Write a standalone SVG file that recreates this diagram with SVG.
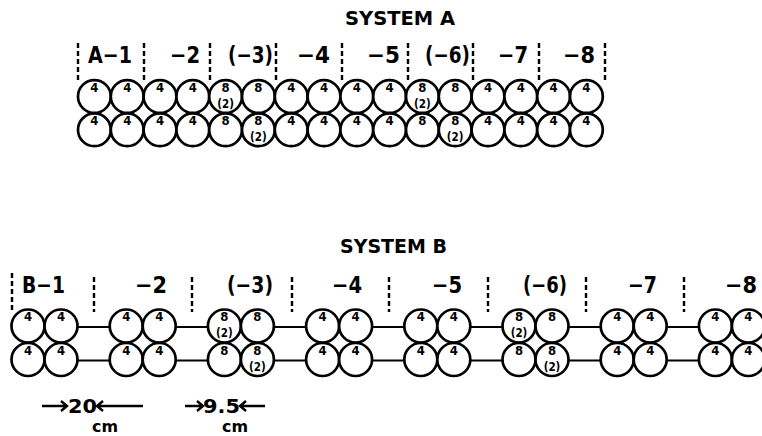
<svg xmlns="http://www.w3.org/2000/svg" width="762" height="436" viewBox="0 0 762 436">
<style>
.c{fill:#fff;stroke:#000;stroke-width:2.7}
.n{font-family:"DejaVu Sans Condensed","DejaVu Sans",sans-serif;font-weight:bold;font-size:13px;text-anchor:middle;fill:#000}
.p{font-family:"DejaVu Sans Condensed","DejaVu Sans",sans-serif;font-weight:bold;font-size:11.5px;text-anchor:middle;fill:#000}
.t{font-family:"DejaVu Sans Condensed","DejaVu Sans",sans-serif;font-weight:bold;font-size:19px;fill:#000}
.l{font-family:"DejaVu Sans Condensed","DejaVu Sans",sans-serif;font-weight:bold;font-size:23px;fill:#000}
.m{font-family:"DejaVu Sans Condensed","DejaVu Sans",sans-serif;font-weight:bold;font-size:20px;fill:#000}
.u{font-family:"DejaVu Sans Condensed","DejaVu Sans",sans-serif;font-weight:bold;font-size:15px;fill:#000}
.d{stroke:#000;stroke-width:2.4;stroke-dasharray:5 3;fill:none}
.k{stroke:#000;stroke-width:2.2;fill:none}
.a{stroke:#000;stroke-width:2.4;fill:none}
</style>

<text class="t" x="345" y="25" textLength="110" lengthAdjust="spacingAndGlyphs">SYSTEM  A</text>
<text class="t" x="340" y="253" textLength="107" lengthAdjust="spacingAndGlyphs">SYSTEM  B</text>

<g id="dividers-A">
<path class="d" d="M78 43V83M144 43V83M210 43V83M276 43V83M342 43V83M408 43V83M473 43V83M539 43V83M605 43V83"/>
</g>
<g id="labels-A">
<text class="l" x="88" y="63" textLength="44" lengthAdjust="spacingAndGlyphs">A−1</text>
<text class="l" x="170" y="63" textLength="30" lengthAdjust="spacingAndGlyphs">−2</text>
<text class="l" x="228" y="63" textLength="45" lengthAdjust="spacingAndGlyphs">(−3)</text>
<text class="l" x="297" y="63" textLength="33" lengthAdjust="spacingAndGlyphs">−4</text>
<text class="l" x="367" y="63" textLength="33" lengthAdjust="spacingAndGlyphs">−5</text>
<text class="l" x="425" y="63" textLength="45" lengthAdjust="spacingAndGlyphs">(−6)</text>
<text class="l" x="498" y="63" textLength="30" lengthAdjust="spacingAndGlyphs">−7</text>
<text class="l" x="563" y="63" textLength="32" lengthAdjust="spacingAndGlyphs">−8</text>
</g>

<g id="system-A">
<g id="A-t0"><circle class="c" cx="94.4" cy="96.5" r="16.4"/><text class="n" x="94.4" y="91.5">4</text></g>
<g id="A-t1"><circle class="c" cx="127.2" cy="96.5" r="16.4"/><text class="n" x="127.2" y="91.5">4</text></g>
<g id="A-t2"><circle class="c" cx="160" cy="96.5" r="16.4"/><text class="n" x="160" y="91.5">4</text></g>
<g id="A-t3"><circle class="c" cx="192.8" cy="96.5" r="16.4"/><text class="n" x="192.8" y="91.5">4</text></g>
<g id="A-t4"><circle class="c" cx="225.6" cy="96.5" r="16.4"/><text class="n" x="225.6" y="91.5">8</text><text class="p" x="225.6" y="107.5">(2)</text></g>
<g id="A-t5"><circle class="c" cx="258.4" cy="96.5" r="16.4"/><text class="n" x="258.4" y="91.5">8</text></g>
<g id="A-t6"><circle class="c" cx="291.2" cy="96.5" r="16.4"/><text class="n" x="291.2" y="91.5">4</text></g>
<g id="A-t7"><circle class="c" cx="324" cy="96.5" r="16.4"/><text class="n" x="324" y="91.5">4</text></g>
<g id="A-t8"><circle class="c" cx="356.8" cy="96.5" r="16.4"/><text class="n" x="356.8" y="91.5">4</text></g>
<g id="A-t9"><circle class="c" cx="389.6" cy="96.5" r="16.4"/><text class="n" x="389.6" y="91.5">4</text></g>
<g id="A-t10"><circle class="c" cx="422.4" cy="96.5" r="16.4"/><text class="n" x="422.4" y="91.5">8</text><text class="p" x="422.4" y="107.5">(2)</text></g>
<g id="A-t11"><circle class="c" cx="455.2" cy="96.5" r="16.4"/><text class="n" x="455.2" y="91.5">8</text></g>
<g id="A-t12"><circle class="c" cx="488" cy="96.5" r="16.4"/><text class="n" x="488" y="91.5">4</text></g>
<g id="A-t13"><circle class="c" cx="520.8" cy="96.5" r="16.4"/><text class="n" x="520.8" y="91.5">4</text></g>
<g id="A-t14"><circle class="c" cx="553.6" cy="96.5" r="16.4"/><text class="n" x="553.6" y="91.5">4</text></g>
<g id="A-t15"><circle class="c" cx="586.4" cy="96.5" r="16.4"/><text class="n" x="586.4" y="91.5">4</text></g>

<g id="A-b0"><circle class="c" cx="94.4" cy="129.8" r="16.4"/><text class="n" x="94.4" y="124.8">4</text></g>
<g id="A-b1"><circle class="c" cx="127.2" cy="129.8" r="16.4"/><text class="n" x="127.2" y="124.8">4</text></g>
<g id="A-b2"><circle class="c" cx="160" cy="129.8" r="16.4"/><text class="n" x="160" y="124.8">4</text></g>
<g id="A-b3"><circle class="c" cx="192.8" cy="129.8" r="16.4"/><text class="n" x="192.8" y="124.8">4</text></g>
<g id="A-b4"><circle class="c" cx="225.6" cy="129.8" r="16.4"/><text class="n" x="225.6" y="124.8">8</text></g>
<g id="A-b5"><circle class="c" cx="258.4" cy="129.8" r="16.4"/><text class="n" x="258.4" y="124.8">8</text><text class="p" x="258.4" y="140.8">(2)</text></g>
<g id="A-b6"><circle class="c" cx="291.2" cy="129.8" r="16.4"/><text class="n" x="291.2" y="124.8">4</text></g>
<g id="A-b7"><circle class="c" cx="324" cy="129.8" r="16.4"/><text class="n" x="324" y="124.8">4</text></g>
<g id="A-b8"><circle class="c" cx="356.8" cy="129.8" r="16.4"/><text class="n" x="356.8" y="124.8">4</text></g>
<g id="A-b9"><circle class="c" cx="389.6" cy="129.8" r="16.4"/><text class="n" x="389.6" y="124.8">4</text></g>
<g id="A-b10"><circle class="c" cx="422.4" cy="129.8" r="16.4"/><text class="n" x="422.4" y="124.8">8</text></g>
<g id="A-b11"><circle class="c" cx="455.2" cy="129.8" r="16.4"/><text class="n" x="455.2" y="124.8">8</text><text class="p" x="455.2" y="140.8">(2)</text></g>
<g id="A-b12"><circle class="c" cx="488" cy="129.8" r="16.4"/><text class="n" x="488" y="124.8">4</text></g>
<g id="A-b13"><circle class="c" cx="520.8" cy="129.8" r="16.4"/><text class="n" x="520.8" y="124.8">4</text></g>
<g id="A-b14"><circle class="c" cx="553.6" cy="129.8" r="16.4"/><text class="n" x="553.6" y="124.8">4</text></g>
<g id="A-b15"><circle class="c" cx="586.4" cy="129.8" r="16.4"/><text class="n" x="586.4" y="124.8">4</text></g>
</g>

<g id="dividers-B">
<path class="d" d="M12 273V312M94 277V312M192 277V312M292 277V312M389 277V312M488 277V312M586 277V312M684 277V312"/>
</g>
<g id="labels-B">
<text class="l" x="22" y="293" textLength="43" lengthAdjust="spacingAndGlyphs">B−1</text>
<text class="l" x="135" y="293" textLength="32" lengthAdjust="spacingAndGlyphs">−2</text>
<text class="l" x="227" y="293" textLength="46" lengthAdjust="spacingAndGlyphs">(−3)</text>
<text class="l" x="332" y="293" textLength="30" lengthAdjust="spacingAndGlyphs">−4</text>
<text class="l" x="432" y="293" textLength="30" lengthAdjust="spacingAndGlyphs">−5</text>
<text class="l" x="523" y="293" textLength="44" lengthAdjust="spacingAndGlyphs">(−6)</text>
<text class="l" x="628" y="293" textLength="29" lengthAdjust="spacingAndGlyphs">−7</text>
<text class="l" x="725" y="293" textLength="32" lengthAdjust="spacingAndGlyphs">−8</text>
</g>

<g id="connectors">
<path class="k" d="M77.5 327H109.7M175.7 327H207.9M273.9 327H306.1M372.1 327H404.3M470.3 327H502.5M568.5 327H600.7M666.7 327H698.9"/>
<path class="k" d="M77.5 360.5H109.7M175.7 360.5H207.9M273.9 360.5H306.1M372.1 360.5H404.3M470.3 360.5H502.5M568.5 360.5H600.7M666.7 360.5H698.9"/>
</g>

<g id="system-B">
<g id="B-t0"><circle class="c" cx="28" cy="326" r="16.5"/><text class="n" x="28" y="321">4</text></g>
<g id="B-t1"><circle class="c" cx="61" cy="326" r="16.5"/><text class="n" x="61" y="321">4</text></g>
<g id="B-t2"><circle class="c" cx="126.2" cy="326" r="16.5"/><text class="n" x="126.2" y="321">4</text></g>
<g id="B-t3"><circle class="c" cx="159.2" cy="326" r="16.5"/><text class="n" x="159.2" y="321">4</text></g>
<g id="B-t4"><circle class="c" cx="224.4" cy="326" r="16.5"/><text class="n" x="224.4" y="321">8</text><text class="p" x="224.4" y="337">(2)</text></g>
<g id="B-t5"><circle class="c" cx="257.4" cy="326" r="16.5"/><text class="n" x="257.4" y="321">8</text></g>
<g id="B-t6"><circle class="c" cx="322.6" cy="326" r="16.5"/><text class="n" x="322.6" y="321">4</text></g>
<g id="B-t7"><circle class="c" cx="355.6" cy="326" r="16.5"/><text class="n" x="355.6" y="321">4</text></g>
<g id="B-t8"><circle class="c" cx="420.8" cy="326" r="16.5"/><text class="n" x="420.8" y="321">4</text></g>
<g id="B-t9"><circle class="c" cx="453.8" cy="326" r="16.5"/><text class="n" x="453.8" y="321">4</text></g>
<g id="B-t10"><circle class="c" cx="519" cy="326" r="16.5"/><text class="n" x="519" y="321">8</text><text class="p" x="519" y="337">(2)</text></g>
<g id="B-t11"><circle class="c" cx="552" cy="326" r="16.5"/><text class="n" x="552" y="321">8</text></g>
<g id="B-t12"><circle class="c" cx="617.2" cy="326" r="16.5"/><text class="n" x="617.2" y="321">4</text></g>
<g id="B-t13"><circle class="c" cx="650.2" cy="326" r="16.5"/><text class="n" x="650.2" y="321">4</text></g>
<g id="B-t14"><circle class="c" cx="715.4" cy="326" r="16.5"/><text class="n" x="715.4" y="321">4</text></g>
<g id="B-t15"><circle class="c" cx="748.4" cy="326" r="16.5"/><text class="n" x="748.4" y="321">4</text></g>

<g id="B-b0"><circle class="c" cx="28" cy="359.5" r="16.5"/><text class="n" x="28" y="354.5">4</text></g>
<g id="B-b1"><circle class="c" cx="61" cy="359.5" r="16.5"/><text class="n" x="61" y="354.5">4</text></g>
<g id="B-b2"><circle class="c" cx="126.2" cy="359.5" r="16.5"/><text class="n" x="126.2" y="354.5">4</text></g>
<g id="B-b3"><circle class="c" cx="159.2" cy="359.5" r="16.5"/><text class="n" x="159.2" y="354.5">4</text></g>
<g id="B-b4"><circle class="c" cx="224.4" cy="359.5" r="16.5"/><text class="n" x="224.4" y="354.5">8</text></g>
<g id="B-b5"><circle class="c" cx="257.4" cy="359.5" r="16.5"/><text class="n" x="257.4" y="354.5">8</text><text class="p" x="257.4" y="370.5">(2)</text></g>
<g id="B-b6"><circle class="c" cx="322.6" cy="359.5" r="16.5"/><text class="n" x="322.6" y="354.5">4</text></g>
<g id="B-b7"><circle class="c" cx="355.6" cy="359.5" r="16.5"/><text class="n" x="355.6" y="354.5">4</text></g>
<g id="B-b8"><circle class="c" cx="420.8" cy="359.5" r="16.5"/><text class="n" x="420.8" y="354.5">4</text></g>
<g id="B-b9"><circle class="c" cx="453.8" cy="359.5" r="16.5"/><text class="n" x="453.8" y="354.5">4</text></g>
<g id="B-b10"><circle class="c" cx="519" cy="359.5" r="16.5"/><text class="n" x="519" y="354.5">8</text></g>
<g id="B-b11"><circle class="c" cx="552" cy="359.5" r="16.5"/><text class="n" x="552" y="354.5">8</text><text class="p" x="552" y="370.5">(2)</text></g>
<g id="B-b12"><circle class="c" cx="617.2" cy="359.5" r="16.5"/><text class="n" x="617.2" y="354.5">4</text></g>
<g id="B-b13"><circle class="c" cx="650.2" cy="359.5" r="16.5"/><text class="n" x="650.2" y="354.5">4</text></g>
<g id="B-b14"><circle class="c" cx="715.4" cy="359.5" r="16.5"/><text class="n" x="715.4" y="354.5">4</text></g>
<g id="B-b15"><circle class="c" cx="748.4" cy="359.5" r="16.5"/><text class="n" x="748.4" y="354.5">4</text></g>
</g>

<g id="dimension-20">
<path class="a" d="M42 406H67M61 401L67 406L61 411"/>
<text class="m" x="68" y="413" textLength="29" lengthAdjust="spacingAndGlyphs">20</text>
<path class="a" d="M97 406H143M103 401L97 406L103 411"/>
<text class="u" x="92" y="431.5" textLength="26" lengthAdjust="spacingAndGlyphs">cm</text>
</g>
<g id="dimension-9.5">
<path class="a" d="M185 406H203M197 401L203 406L197 411"/>
<text class="m" x="203" y="413" textLength="37" lengthAdjust="spacingAndGlyphs">9.5</text>
<path class="a" d="M240 406H265M246 401L240 406L246 411"/>
<text class="u" x="222" y="431.5" textLength="26" lengthAdjust="spacingAndGlyphs">cm</text>
</g>
</svg>
